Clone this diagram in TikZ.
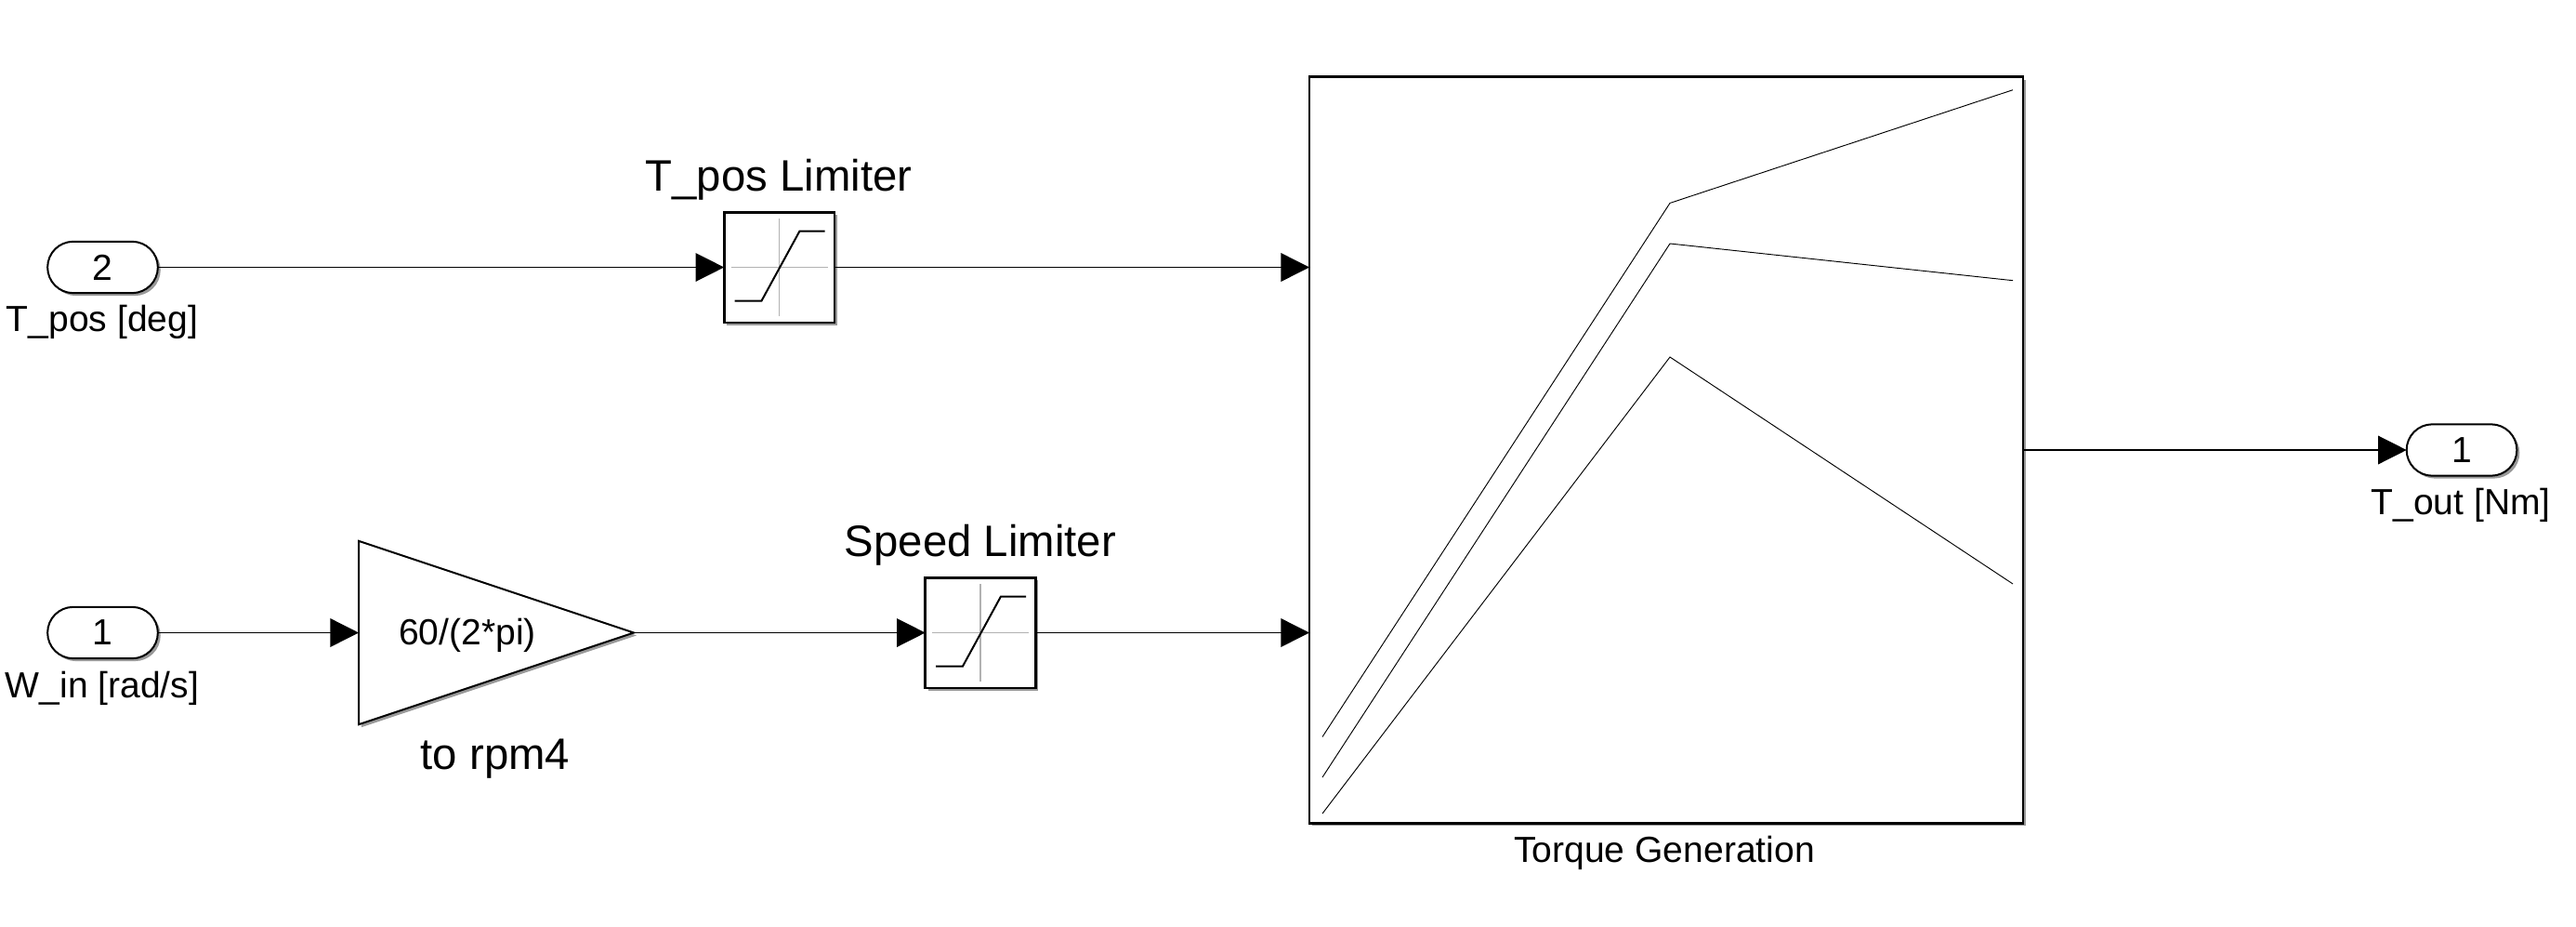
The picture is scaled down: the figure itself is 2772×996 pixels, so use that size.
\documentclass[tikz,border=0pt]{standalone}
\usepackage{fontspec}
\setmainfont{Liberation Sans}
\usetikzlibrary{arrows.meta,shapes.geometric,shapes.misc,shadows}
\tikzset{
  blockshadow/.style={drop shadow={shadow xshift=2.2pt,shadow yshift=-2.2pt,opacity=0.4,fill=black}},
  portbox/.style={rounded rectangle,draw,line width=1.5pt,fill=white,blockshadow,minimum width=89pt,minimum height=41.5pt,inner sep=0pt,outer sep=0pt,font=\fontsize{29.3}{31}\selectfont},
  limitbox/.style={rectangle,draw,line width=2pt,fill=white,blockshadow,minimum width=89pt,minimum height=89pt,inner sep=0pt,outer sep=0pt},
  gainbox/.style={isosceles triangle,isosceles triangle stretches,draw,line width=1.5pt,fill=white,blockshadow,minimum width=148pt,minimum height=222pt,inner sep=0pt,outer sep=0pt},
  torquebox/.style={rectangle,draw,line width=2pt,fill=white,blockshadow,minimum width=576pt,minimum height=602pt,inner sep=0pt,outer sep=0pt},
  smalllabel/.style={anchor=base,inner sep=0pt,font=\fontsize{29.3}{31}\selectfont},
  biglabel/.style={anchor=base,inner sep=0pt,font=\fontsize{35.5}{37}\selectfont},
  wire/.style={line width=1pt,-{Triangle[length=23pt,width=23pt]}},
  curveline/.style={line width=0.7pt,color=black},
  satcurve/.pic={
    \draw [line width=0.9pt,color=black!30] (-52,0) -- (52,0);
    \draw [line width=0.9pt,color=black!30] (0,-52.5) -- (0,52.5);
    \draw [line width=1.5pt] (-48,-36) -- (-19,-36) -- (22,39) -- (49,39);
  }
}
\begin{document}
\begin{tikzpicture}[x=0.75pt,y=0.75pt,yscale=-1,xscale=1]
\useasboundingbox (0,0) rectangle (2772,996);

%Blocks
\node [portbox] (inpos) at (110.5,287.5) {2};
\node [portbox] (inspeed) at (110.5,680.5) {1};
\node [portbox] (outtorque) at (2649,484) {1};
\node [limitbox] (poslimit) at (838.5,287.5) {};
\node [limitbox] (speedlimit) at (1055,680.5) {};
\node [gainbox,anchor=lower side] (rpmgain) at (386,680.5) {};
\node [torquebox] (torquegen) at (1793,484) {};

%Icons
\path (poslimit.center) pic {satcurve};
\path (speedlimit.center) pic {satcurve};
\draw [curveline] (1423,792.5) -- (1797,218.4) -- (2166,96.7);
\draw [curveline] (1423,836) -- (1797,262) -- (2166,301.7);
\draw [curveline] (1423,875) -- (1797,384) -- (2166,628);

%Labels
\node [smalllabel] (inposname) at (110,356) {T\_pos [deg]};
\node [smalllabel] (inspeedname) at (110,750) {W\_in [rad/s]};
\node [smalllabel] (outtorquename) at (2648,553) {T\_out [Nm]};
\node [smalllabel] (torquename) at (1791,927) {Torque Generation};
\node [smalllabel] (gainvalue) at (503,693) {60/(2*pi)};
\node [biglabel] (poslimitname) at (838,205) {T\_pos Limiter};
\node [biglabel] (speedlimitname) at (1055,598) {Speed Limiter};
\node [biglabel] (gainname) at (533,827) {to rpm4};

%Signal Lines
\draw [wire] (inpos.east) -- (poslimit.west);
\draw [wire] (poslimit.east) -- (poslimit.east -| torquegen.west);
\draw [wire] (inspeed.east) -- (rpmgain.lower side);
\draw [wire] (rpmgain.apex) -- (speedlimit.west);
\draw [wire] (speedlimit.east) -- (speedlimit.east -| torquegen.west);
\draw [wire] (torquegen.east) -- (outtorque.west);
\end{tikzpicture}
\end{document}
